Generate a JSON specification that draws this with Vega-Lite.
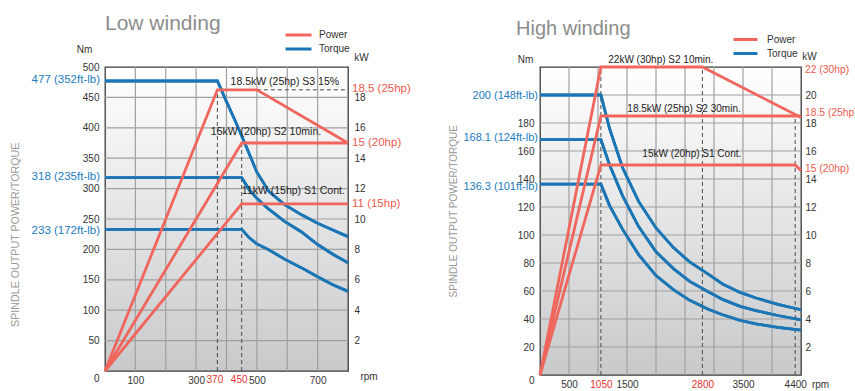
{
  "$schema": "https://vega.github.io/schema/vega-lite/v6.json",
  "background": "white",
  "padding": {"left": 9, "top": 12, "right": 5, "bottom": 0},
  "spacing": 36,
  "config": {
    "font": "Liberation Sans",
    "view": {
      "stroke": "#3c3c3c",
      "strokeWidth": 1.3,
      "fill": {"gradient": "linear", "x1": 0, "y1": 0, "x2": 0, "y2": 1, "stops": [{"offset": 0, "color": "#ffffff"}, {"offset": 1, "color": "#c8c9cb"}]}
    },
    "axis": {
      "labelFont": "Liberation Sans",
      "labelFontSize": 10,
      "labelColor": "#333333",
      "grid": false,
      "ticks": false,
      "domain": false,
      "titleFont": "Liberation Sans",
      "titleFontSize": 10,
      "titleFontWeight": "normal",
      "titleColor": "#333333",
      "labelOverlap": false,
      "labelBound": false
    },
    "legend": {"labelFont": "Liberation Sans", "labelFontSize": 10, "labelColor": "#333333"}
  },
  "datasets": {
    "lowG": [
      {"g": "v100", "rpm": 100, "v": 0}, {"g": "v100", "rpm": 100, "v": 500},
      {"g": "v200", "rpm": 200, "v": 0}, {"g": "v200", "rpm": 200, "v": 500},
      {"g": "v300", "rpm": 300, "v": 0}, {"g": "v300", "rpm": 300, "v": 500},
      {"g": "v400", "rpm": 400, "v": 0}, {"g": "v400", "rpm": 400, "v": 500},
      {"g": "v500", "rpm": 500, "v": 0}, {"g": "v500", "rpm": 500, "v": 500},
      {"g": "v600", "rpm": 600, "v": 0}, {"g": "v600", "rpm": 600, "v": 500},
      {"g": "v700", "rpm": 700, "v": 0}, {"g": "v700", "rpm": 700, "v": 500},
      {"g": "h50", "rpm": 0, "v": 50}, {"g": "h50", "rpm": 800, "v": 50},
      {"g": "h100", "rpm": 0, "v": 100}, {"g": "h100", "rpm": 800, "v": 100},
      {"g": "h150", "rpm": 0, "v": 150}, {"g": "h150", "rpm": 800, "v": 150},
      {"g": "h200", "rpm": 0, "v": 200}, {"g": "h200", "rpm": 800, "v": 200},
      {"g": "h250", "rpm": 0, "v": 250}, {"g": "h250", "rpm": 800, "v": 250},
      {"g": "h300", "rpm": 0, "v": 300}, {"g": "h300", "rpm": 800, "v": 300},
      {"g": "h350", "rpm": 0, "v": 350}, {"g": "h350", "rpm": 800, "v": 350},
      {"g": "h400", "rpm": 0, "v": 400}, {"g": "h400", "rpm": 800, "v": 400},
      {"g": "h450", "rpm": 0, "v": 450}, {"g": "h450", "rpm": 800, "v": 450}
    ],
    "highG": [
      {"g": "v500", "rpm": 500, "v": 0}, {"g": "v500", "rpm": 500, "v": 220},
      {"g": "v1000", "rpm": 1000, "v": 0}, {"g": "v1000", "rpm": 1000, "v": 220},
      {"g": "v1500", "rpm": 1500, "v": 0}, {"g": "v1500", "rpm": 1500, "v": 220},
      {"g": "v2000", "rpm": 2000, "v": 0}, {"g": "v2000", "rpm": 2000, "v": 220},
      {"g": "v2500", "rpm": 2500, "v": 0}, {"g": "v2500", "rpm": 2500, "v": 220},
      {"g": "v3000", "rpm": 3000, "v": 0}, {"g": "v3000", "rpm": 3000, "v": 220},
      {"g": "v3500", "rpm": 3500, "v": 0}, {"g": "v3500", "rpm": 3500, "v": 220},
      {"g": "v4000", "rpm": 4000, "v": 0}, {"g": "v4000", "rpm": 4000, "v": 220},
      {"g": "h20", "rpm": 0, "v": 20}, {"g": "h20", "rpm": 4500, "v": 20},
      {"g": "h40", "rpm": 0, "v": 40}, {"g": "h40", "rpm": 4500, "v": 40},
      {"g": "h60", "rpm": 0, "v": 60}, {"g": "h60", "rpm": 4500, "v": 60},
      {"g": "h80", "rpm": 0, "v": 80}, {"g": "h80", "rpm": 4500, "v": 80},
      {"g": "h100", "rpm": 0, "v": 100}, {"g": "h100", "rpm": 4500, "v": 100},
      {"g": "h120", "rpm": 0, "v": 120}, {"g": "h120", "rpm": 4500, "v": 120},
      {"g": "h140", "rpm": 0, "v": 140}, {"g": "h140", "rpm": 4500, "v": 140},
      {"g": "h160", "rpm": 0, "v": 160}, {"g": "h160", "rpm": 4500, "v": 160},
      {"g": "h180", "rpm": 0, "v": 180}, {"g": "h180", "rpm": 4500, "v": 180},
      {"g": "h200", "rpm": 0, "v": 200}, {"g": "h200", "rpm": 4500, "v": 200}
    ],
    "lowXL": [{"lab": "370", "rpm": 370}, {"lab": "450", "rpm": 450}],
    "lowT": [
      {"c": "Torque", "s": "a", "rpm": 0, "v": 477}, {"c": "Torque", "s": "a", "rpm": 370, "v": 477}, {"c": "Torque", "s": "a", "rpm": 400, "v": 443}, {"c": "Torque", "s": "a", "rpm": 430, "v": 410}, {"c": "Torque", "s": "a", "rpm": 460, "v": 375}, {"c": "Torque", "s": "a", "rpm": 500, "v": 327}, {"c": "Torque", "s": "a", "rpm": 540, "v": 295}, {"c": "Torque", "s": "a", "rpm": 590, "v": 274}, {"c": "Torque", "s": "a", "rpm": 650, "v": 256}, {"c": "Torque", "s": "a", "rpm": 700, "v": 243}, {"c": "Torque", "s": "a", "rpm": 750, "v": 232}, {"c": "Torque", "s": "a", "rpm": 800, "v": 221},
      {"c": "Torque", "s": "b", "rpm": 0, "v": 318}, {"c": "Torque", "s": "b", "rpm": 450, "v": 318}, {"c": "Torque", "s": "b", "rpm": 475, "v": 298}, {"c": "Torque", "s": "b", "rpm": 500, "v": 284}, {"c": "Torque", "s": "b", "rpm": 537, "v": 267}, {"c": "Torque", "s": "b", "rpm": 591, "v": 246}, {"c": "Torque", "s": "b", "rpm": 646, "v": 229}, {"c": "Torque", "s": "b", "rpm": 700, "v": 208}, {"c": "Torque", "s": "b", "rpm": 750, "v": 192}, {"c": "Torque", "s": "b", "rpm": 800, "v": 178},
      {"c": "Torque", "s": "c", "rpm": 0, "v": 233}, {"c": "Torque", "s": "c", "rpm": 450, "v": 233}, {"c": "Torque", "s": "c", "rpm": 475, "v": 219}, {"c": "Torque", "s": "c", "rpm": 500, "v": 209}, {"c": "Torque", "s": "c", "rpm": 537, "v": 200}, {"c": "Torque", "s": "c", "rpm": 591, "v": 184}, {"c": "Torque", "s": "c", "rpm": 646, "v": 170}, {"c": "Torque", "s": "c", "rpm": 700, "v": 155}, {"c": "Torque", "s": "c", "rpm": 750, "v": 142}, {"c": "Torque", "s": "c", "rpm": 800, "v": 131}
    ],
    "lowP": [
      {"c": "Power", "s": "p1", "rpm": 0, "v": 0}, {"c": "Power", "s": "p1", "rpm": 370, "v": 18.5}, {"c": "Power", "s": "p1", "rpm": 500, "v": 18.5}, {"c": "Power", "s": "p1", "rpm": 800, "v": 15},
      {"c": "Power", "s": "p2", "rpm": 0, "v": 0}, {"c": "Power", "s": "p2", "rpm": 450, "v": 15}, {"c": "Power", "s": "p2", "rpm": 800, "v": 15},
      {"c": "Power", "s": "p3", "rpm": 0, "v": 0}, {"c": "Power", "s": "p3", "rpm": 450, "v": 11}, {"c": "Power", "s": "p3", "rpm": 800, "v": 11}
    ],
    "lowTL": [
      {"lab": "477 (352ft-lb)", "v": 477.8}, {"lab": "318 (235ft-lb)", "v": 318.6}, {"lab": "233 (172ft-lb)", "v": 230}
    ],
    "lowPL": [
      {"lab": "18.5 (25hp)", "v": 18.52}, {"lab": "15 (20hp)", "v": 15}, {"lab": "11 (15hp)", "v": 11}
    ],
    "lowA": [
      {"lab": "18.5kW (25hp) S3 15%", "rpm": 592, "v": 19.0},
      {"lab": "15kW (20hp) S2 10min.", "rpm": 530, "v": 15.7},
      {"lab": "11kW (15hp) S1 Cont.", "rpm": 620, "v": 11.87}
    ],
    "lowR": [
      {"x": 370, "x2": 370, "y": 0, "y2": 18.5}, {"x": 450, "x2": 450, "y": 0, "y2": 15}, {"x": 500, "x2": 800, "y": 18.5, "y2": 18.5}
    ],
    "highT": [
      {"c": "Torque", "s": "a", "rpm": 0, "v": 200}, {"c": "Torque", "s": "a", "rpm": 1050, "v": 200}, {"c": "Torque", "s": "a", "rpm": 1200, "v": 176}, {"c": "Torque", "s": "a", "rpm": 1424, "v": 148}, {"c": "Torque", "s": "a", "rpm": 1700, "v": 124}, {"c": "Torque", "s": "a", "rpm": 2000, "v": 105}, {"c": "Torque", "s": "a", "rpm": 2300, "v": 91}, {"c": "Torque", "s": "a", "rpm": 2574, "v": 81}, {"c": "Torque", "s": "a", "rpm": 2900, "v": 72}, {"c": "Torque", "s": "a", "rpm": 3148, "v": 65}, {"c": "Torque", "s": "a", "rpm": 3450, "v": 59}, {"c": "Torque", "s": "a", "rpm": 3724, "v": 55}, {"c": "Torque", "s": "a", "rpm": 4100, "v": 50.5}, {"c": "Torque", "s": "a", "rpm": 4500, "v": 46.6},
      {"c": "Torque", "s": "b", "rpm": 0, "v": 168.1}, {"c": "Torque", "s": "b", "rpm": 1050, "v": 168.1}, {"c": "Torque", "s": "b", "rpm": 1200, "v": 150}, {"c": "Torque", "s": "b", "rpm": 1424, "v": 128}, {"c": "Torque", "s": "b", "rpm": 1700, "v": 106}, {"c": "Torque", "s": "b", "rpm": 2000, "v": 88}, {"c": "Torque", "s": "b", "rpm": 2300, "v": 76}, {"c": "Torque", "s": "b", "rpm": 2574, "v": 67}, {"c": "Torque", "s": "b", "rpm": 2900, "v": 59.5}, {"c": "Torque", "s": "b", "rpm": 3148, "v": 54}, {"c": "Torque", "s": "b", "rpm": 3450, "v": 49}, {"c": "Torque", "s": "b", "rpm": 3724, "v": 46}, {"c": "Torque", "s": "b", "rpm": 4100, "v": 42.5}, {"c": "Torque", "s": "b", "rpm": 4500, "v": 39.3},
      {"c": "Torque", "s": "c", "rpm": 0, "v": 136.3}, {"c": "Torque", "s": "c", "rpm": 1050, "v": 136.3}, {"c": "Torque", "s": "c", "rpm": 1200, "v": 121}, {"c": "Torque", "s": "c", "rpm": 1424, "v": 104}, {"c": "Torque", "s": "c", "rpm": 1700, "v": 86}, {"c": "Torque", "s": "c", "rpm": 2000, "v": 71}, {"c": "Torque", "s": "c", "rpm": 2300, "v": 61}, {"c": "Torque", "s": "c", "rpm": 2574, "v": 53.5}, {"c": "Torque", "s": "c", "rpm": 2900, "v": 47}, {"c": "Torque", "s": "c", "rpm": 3148, "v": 43}, {"c": "Torque", "s": "c", "rpm": 3450, "v": 39}, {"c": "Torque", "s": "c", "rpm": 3724, "v": 36.5}, {"c": "Torque", "s": "c", "rpm": 4100, "v": 34}, {"c": "Torque", "s": "c", "rpm": 4500, "v": 32}
    ],
    "highP": [
      {"c": "Power", "s": "p1", "rpm": 0, "v": 0}, {"c": "Power", "s": "p1", "rpm": 1050, "v": 22}, {"c": "Power", "s": "p1", "rpm": 2800, "v": 22}, {"c": "Power", "s": "p1", "rpm": 4500, "v": 18.4},
      {"c": "Power", "s": "p2", "rpm": 0, "v": 0}, {"c": "Power", "s": "p2", "rpm": 1050, "v": 18.5}, {"c": "Power", "s": "p2", "rpm": 4500, "v": 18.5},
      {"c": "Power", "s": "p3", "rpm": 0, "v": 0}, {"c": "Power", "s": "p3", "rpm": 1050, "v": 15}, {"c": "Power", "s": "p3", "rpm": 4400, "v": 15}, {"c": "Power", "s": "p3", "rpm": 4500, "v": 14.6}
    ],
    "highTL": [
      {"lab": "200 (148ft-lb)", "v": 199.5}, {"lab": "168.1 (124ft-lb)", "v": 169}, {"lab": "136.3 (101ft-lb)", "v": 134}
    ],
    "highPL": [
      {"lab": "22 (30hp)", "v": 21.8}, {"lab": "18.5 (25hp)", "v": 18.74}, {"lab": "15 (20hp)", "v": 14.74}
    ],
    "highA": [
      {"lab": "22kW (30hp) S2 10min.", "rpm": 2083, "v": 22.5},
      {"lab": "18.5kW (25hp) S2 30min.", "rpm": 2483, "v": 19.0},
      {"lab": "15kW (20hp) S1 Cont.", "rpm": 2617, "v": 15.8}
    ],
    "highR": [
      {"x": 1050, "x2": 1050, "y": 0, "y2": 22}, {"x": 2800, "x2": 2800, "y": 0, "y2": 22}, {"x": 4400, "x2": 4400, "y": 0, "y2": 18.5}
    ],
    "ytitle": [{"lab": "SPINDLE OUTPUT POWER/TORQUE"}]
  },
  "hconcat": [
    {
      "width": 243,
      "height": 304,
      "title": {"text": "Low winding", "anchor": "start", "frame": "group", "fontSize": 21, "fontWeight": "normal", "color": "#8c8c8c", "font": "Liberation Sans", "offset": -7},
      "layer": [
        {
          "data": {"name": "lowT"},
          "mark": {"type": "line", "strokeWidth": 2.8},
          "encoding": {
            "x": {"field": "rpm", "type": "quantitative", "scale": {"domain": [0, 800], "nice": false, "zero": false},
              "axis": {"orient": "bottom", "grid": false, "labelOverlap": false, "values": [100, 200, 300, 400, 500, 600, 700, 800], "title": "rpm", "titleX": 263.5, "titleY": 5, "titleAngle": 0, "titleAlign": "center", "titleBaseline": "middle", "labelFlush": false,
                "labelPadding": {"condition": {"test": "datum.value==200||datum.value==400||datum.value==600||datum.value==800", "value": 18}, "value": 4}}},
            "y": {"field": "v", "type": "quantitative", "scale": {"domain": [0, 500], "nice": false},
              "axis": {"orient": "left", "grid": false, "labelOverlap": false, "values": [0, 50, 100, 150, 200, 250, 300, 350, 400, 450, 500], "title": "Nm", "titleAngle": 0, "titleX": -21, "titleY": -18, "titleAlign": "center", "titleBaseline": "middle", "labelPadding": 6,
                "labelOffset": {"condition": {"test": "datum.value==0", "value": 7}, "value": 0}}},
            "color": {"field": "c", "type": "nominal", "scale": {"domain": ["Power", "Torque"], "range": ["#f0665c", "#1b76b5"]},
              "legend": {"orient": "none", "legendX": 185.5, "legendY": -40, "title": null, "symbolType": "M-2,0H2", "symbolSize": 169, "symbolStrokeWidth": 3, "rowPadding": -2, "labelOffset": 12.5}},
            "detail": {"field": "s"}
          }
        },
        {
          "data": {"name": "lowG"},
          "mark": {"type": "line", "color": "#a0a0a0", "strokeWidth": 1.2},
          "encoding": {
            "x": {"field": "rpm", "type": "quantitative"},
            "y": {"field": "v", "type": "quantitative", "scale": {"domain": [0, 500], "nice": false}, "axis": null},
            "detail": {"field": "g"}
          }
        },
        {
          "data": {"name": "lowR"},
          "mark": {"type": "rule", "color": "#4a4a4a", "strokeDash": [4, 3], "strokeWidth": 1},
          "encoding": {
            "x": {"field": "x", "type": "quantitative"},
            "x2": {"field": "x2"},
            "y": {"field": "y", "type": "quantitative", "scale": {"domain": [0, 20], "nice": false}, "axis": null},
            "y2": {"field": "y2"}
          }
        },
        {
          "data": {"name": "lowT"},
          "mark": {"type": "line", "strokeWidth": 2.8, "color": "#1b76b5"},
          "encoding": {
            "x": {"field": "rpm", "type": "quantitative"},
            "y": {"field": "v", "type": "quantitative", "scale": {"domain": [0, 500], "nice": false}, "axis": null},
            "detail": {"field": "s"}
          }
        },
        {
          "data": {"name": "lowP"},
          "mark": {"type": "line", "strokeWidth": 2.8},
          "encoding": {
            "x": {"field": "rpm", "type": "quantitative"},
            "y": {"field": "v", "type": "quantitative", "scale": {"domain": [0, 20], "nice": false},
              "axis": {"orient": "right", "labelOverlap": false, "values": [2, 4, 6, 8, 10, 12, 14, 16, 18], "title": "kW", "titleAngle": 0, "titleX": 13, "titleY": -10, "titleAlign": "center", "titleBaseline": "middle", "labelPadding": 6, "grid": false}},
            "color": {"field": "c", "type": "nominal", "scale": {"domain": ["Power", "Torque"], "range": ["#f0665c", "#1b76b5"]},
              "legend": {"orient": "none", "legendX": 185.5, "legendY": -40, "title": null, "symbolType": "M-2,0H2", "symbolSize": 169, "symbolStrokeWidth": 3, "rowPadding": -2, "labelOffset": 12.5}},
            "detail": {"field": "s"}
          }
        },
        {
          "data": {"name": "lowXL"},
          "mark": {"type": "text", "fontSize": 10, "color": "#e8312f", "dx": -2.5, "dy": 9},
          "encoding": {
            "x": {"field": "rpm", "type": "quantitative"},
            "y": {"datum": 0, "type": "quantitative", "scale": {"domain": [0, 500], "nice": false}, "axis": null},
            "text": {"field": "lab"}
          }
        },
        {
          "data": {"name": "lowTL"},
          "mark": {"type": "text", "align": "right", "dx": -5, "fontSize": 11.5, "color": "#1d7bbd"},
          "encoding": {
            "x": {"datum": 0, "type": "quantitative"},
            "y": {"field": "v", "type": "quantitative", "scale": {"domain": [0, 500], "nice": false}, "axis": null},
            "text": {"field": "lab"}
          }
        },
        {
          "data": {"name": "ytitle"},
          "mark": {"type": "text", "angle": 270, "fontSize": 10.7, "color": "#9a9a9a"},
          "encoding": {
            "x": {"datum": -294, "type": "quantitative"},
            "y": {"datum": 224, "type": "quantitative", "scale": {"domain": [0, 500], "nice": false}, "axis": null},
            "text": {"field": "lab"}
          }
        },
        {
          "data": {"name": "lowPL"},
          "mark": {"type": "text", "align": "left", "dx": 4, "fontSize": 11.5, "color": "#ef5a4f"},
          "encoding": {
            "x": {"datum": 800, "type": "quantitative"},
            "y": {"field": "v", "type": "quantitative", "scale": {"domain": [0, 20], "nice": false}, "axis": null},
            "text": {"field": "lab"}
          }
        },
        {
          "data": {"name": "lowA"},
          "mark": {"type": "text", "fontSize": 10.5, "color": "#222222"},
          "encoding": {
            "x": {"field": "rpm", "type": "quantitative"},
            "y": {"field": "v", "type": "quantitative", "scale": {"domain": [0, 20], "nice": false}, "axis": null},
            "text": {"field": "lab"}
          }
        }
      ],
      "resolve": {"scale": {"y": "independent"}}
    },
    {
      "width": 261,
      "height": 308,
      "title": {"text": "High winding", "anchor": "start", "frame": "group", "fontSize": 20, "fontWeight": "normal", "color": "#8c8c8c", "font": "Liberation Sans", "offset": -7, "dx": -24},
      "layer": [
        {
          "data": {"name": "highT"},
          "mark": {"type": "line", "strokeWidth": 2.8},
          "encoding": {
            "x": {"field": "rpm", "type": "quantitative", "scale": {"domain": [0, 4500], "nice": false, "zero": false},
              "axis": {"orient": "bottom", "grid": false, "labelOverlap": false, "values": [500, 1050, 1500, 2800, 3500, 4400], "format": "d", "title": "rpm", "titleX": 280, "titleY": 9, "titleAngle": 0, "titleAlign": "center", "titleBaseline": "middle", "labelFlush": false, "labelPadding": 4,
                "labelColor": {"condition": {"test": "datum.value==1050||datum.value==2800", "value": "#e8312f"}, "value": "#333333"}}},
            "y": {"field": "v", "type": "quantitative", "scale": {"domain": [0, 220], "nice": false},
              "axis": {"orient": "left", "grid": false, "labelOverlap": false, "values": [0, 20, 40, 60, 80, 100, 120, 140, 160, 180], "title": "Nm", "titleAngle": 0, "titleX": -15, "titleY": -8, "titleAlign": "center", "titleBaseline": "middle", "labelPadding": 6,
                "labelBaseline": {"condition": {"test": "datum.value==0", "value": "top"}, "value": "middle"}}},
            "color": {"field": "c", "type": "nominal", "scale": {"domain": ["Power", "Torque"], "range": ["#f0665c", "#1b76b5"]},
              "legend": {"orient": "none", "legendX": 198, "legendY": -35, "title": null, "symbolType": "M-2,0H2", "symbolSize": 144, "symbolStrokeWidth": 3, "rowPadding": -3.5, "labelOffset": 14}},
            "detail": {"field": "s"}
          }
        },
        {
          "data": {"name": "highG"},
          "mark": {"type": "line", "color": "#a0a0a0", "strokeWidth": 1.2},
          "encoding": {
            "x": {"field": "rpm", "type": "quantitative"},
            "y": {"field": "v", "type": "quantitative", "scale": {"domain": [0, 220], "nice": false}, "axis": null},
            "detail": {"field": "g"}
          }
        },
        {
          "data": {"name": "highR"},
          "mark": {"type": "rule", "color": "#4a4a4a", "strokeDash": [4, 3], "strokeWidth": 1},
          "encoding": {
            "x": {"field": "x", "type": "quantitative"},
            "x2": {"field": "x2"},
            "y": {"field": "y", "type": "quantitative", "scale": {"domain": [0, 22], "nice": false}, "axis": null},
            "y2": {"field": "y2"}
          }
        },
        {
          "data": {"name": "highT"},
          "mark": {"type": "line", "strokeWidth": 2.8, "color": "#1b76b5"},
          "encoding": {
            "x": {"field": "rpm", "type": "quantitative"},
            "y": {"field": "v", "type": "quantitative", "scale": {"domain": [0, 220], "nice": false}, "axis": null},
            "detail": {"field": "s"}
          }
        },
        {
          "data": {"name": "highP"},
          "mark": {"type": "line", "strokeWidth": 2.8},
          "encoding": {
            "x": {"field": "rpm", "type": "quantitative"},
            "y": {"field": "v", "type": "quantitative", "scale": {"domain": [0, 22], "nice": false},
              "axis": {"orient": "right", "labelOverlap": false, "values": [2, 4, 6, 8, 10, 12, 14, 16, 18, 20], "title": "kW", "titleAngle": 0, "titleX": 8, "titleY": -11, "titleAlign": "center", "titleBaseline": "middle", "labelPadding": 4, "grid": false}},
            "color": {"field": "c", "type": "nominal", "scale": {"domain": ["Power", "Torque"], "range": ["#f0665c", "#1b76b5"]},
              "legend": {"orient": "none", "legendX": 198, "legendY": -35, "title": null, "symbolType": "M-2,0H2", "symbolSize": 144, "symbolStrokeWidth": 3, "rowPadding": -3.5, "labelOffset": 14}},
            "detail": {"field": "s"}
          }
        },
        {
          "data": {"name": "highTL"},
          "mark": {"type": "text", "align": "right", "dx": -2, "fontSize": 11, "color": "#1d7bbd"},
          "encoding": {
            "x": {"datum": 0, "type": "quantitative"},
            "y": {"field": "v", "type": "quantitative", "scale": {"domain": [0, 220], "nice": false}, "axis": null},
            "text": {"field": "lab"}
          }
        },
        {
          "data": {"name": "ytitle"},
          "mark": {"type": "text", "angle": 270, "fontSize": 10, "color": "#9a9a9a"},
          "encoding": {
            "x": {"datum": -1478, "type": "quantitative"},
            "y": {"datum": 117, "type": "quantitative", "scale": {"domain": [0, 220], "nice": false}, "axis": null},
            "text": {"field": "lab"}
          }
        },
        {
          "data": {"name": "highPL"},
          "mark": {"type": "text", "align": "left", "dx": 4, "fontSize": 10.3, "color": "#ef5a4f"},
          "encoding": {
            "x": {"datum": 4500, "type": "quantitative"},
            "y": {"field": "v", "type": "quantitative", "scale": {"domain": [0, 22], "nice": false}, "axis": null},
            "text": {"field": "lab"}
          }
        },
        {
          "data": {"name": "highA"},
          "mark": {"type": "text", "fontSize": 10, "color": "#222222"},
          "encoding": {
            "x": {"field": "rpm", "type": "quantitative"},
            "y": {"field": "v", "type": "quantitative", "scale": {"domain": [0, 22], "nice": false}, "axis": null},
            "text": {"field": "lab"}
          }
        }
      ],
      "resolve": {"scale": {"y": "independent"}}
    }
  ],
  "resolve": {"scale": {"color": "independent"}}
}
